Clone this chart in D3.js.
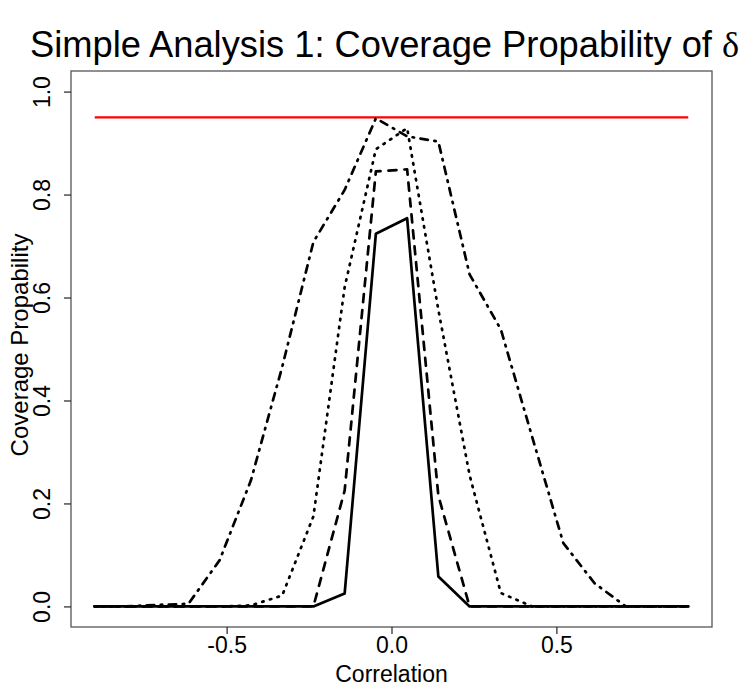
<!DOCTYPE html>
<html>
<head>
<meta charset="utf-8">
<script src="https://cdn.jsdelivr.net/npm/d3@7"></script>
<style>
  body { margin: 0; background: #fff; }
  svg { display: block; font-family: "Liberation Sans", Arial, sans-serif; }
</style>
</head>
<body>
<svg id="chart" width="741" height="700"></svg>
<script>
// correlation grid, seq(-0.9, 0.9, length = 20)
const correlation = [-0.9, -0.8053, -0.7105, -0.6158, -0.5211, -0.4263, -0.3316, -0.2368, -0.1421, -0.0474,
                     0.0474, 0.1421, 0.2368, 0.3316, 0.4263, 0.5211, 0.6158, 0.7105, 0.8053, 0.9];

// coverage, one array per curve
const coverSolid   = [0, 0, 0, 0, 0, 0, 0, 0, 0.025, 0.724, 0.754, 0.058, 0, 0, 0, 0, 0, 0, 0, 0];
const coverDashed  = [0, 0, 0, 0, 0, 0, 0, 0, 0.225, 0.845, 0.849, 0.215, 0, 0, 0, 0, 0, 0, 0, 0];
const coverDotted  = [0, 0, 0, 0, 0, 0.002, 0.021, 0.175, 0.62, 0.888, 0.929, 0.576, 0.255, 0.026, 0, 0, 0, 0, 0, 0];
const coverDotDash = [0, 0, 0.003, 0.005, 0.09, 0.245, 0.465, 0.708, 0.809, 0.948, 0.913, 0.903, 0.645, 0.538, 0.33, 0.123, 0.045, 0, 0, 0];

const nominal = 0.95;

const xTicks = [-0.5, 0, 0.5];
const yTicks = [0, 0.2, 0.4, 0.6, 0.8, 1.0];

const svg = d3.select('#chart');

// plot region (R style, 4% padding on the data range)
const plotL = 71, plotR = 712, plotT = 71, plotB = 627;

const x = d3.scaleLinear().domain([-0.972, 0.972]).range([plotL, plotR]);
const y = d3.scaleLinear().domain([-0.04, 1.04]).range([plotB, plotT]);

// nominal level
svg.append('line')
    .attr('x1', x(correlation[0]))
    .attr('x2', x(correlation[correlation.length - 1]))
    .attr('y1', y(nominal))
    .attr('y2', y(nominal))
    .attr('stroke', '#ff0000')
    .attr('stroke-width', 2.2);

const series = [
    { values: coverSolid,   dash: null },
    { values: coverDashed,  dash: '8 8' },
    { values: coverDotted,  dash: '1.5 6.5' },
    { values: coverDotDash, dash: '1.5 6.5 7.5 6.5' }
];

const line = d3.line()
    .x((d, i) => x(correlation[i]))
    .y(d => y(d));

series.forEach(s => {
    svg.append('path')
        .attr('d', line(s.values))
        .attr('fill', 'none')
        .attr('stroke', '#000')
        .attr('stroke-width', 2.7)
        .attr('stroke-linecap', 'round')
        .attr('stroke-linejoin', 'round')
        .attr('stroke-dasharray', s.dash);
});

// box
svg.append('rect')
    .attr('x', plotL)
    .attr('y', plotT)
    .attr('width', plotR - plotL)
    .attr('height', plotB - plotT)
    .attr('fill', 'none')
    .attr('stroke', '#555')
    .attr('stroke-width', 1.3);

// x axis
const xAxis = svg.append('g')
    .attr('transform', `translate(0,${plotB})`)
    .call(d3.axisBottom(x).tickValues(xTicks).tickSize(7).tickFormat(d => d.toFixed(1)));
xAxis.select('.domain').remove();
xAxis.selectAll('line').attr('stroke', '#333').attr('stroke-width', 1.3);
xAxis.selectAll('text')
    .attr('y', 26)
    .attr('dy', 0)
    .attr('fill', '#000')
    .style('font-size', '23px')
    .style('font-family', '"Liberation Sans", Arial, sans-serif');

// y axis
const yAxis = svg.append('g')
    .attr('transform', `translate(${plotL},0)`)
    .call(d3.axisLeft(y).tickValues(yTicks).tickSize(7).tickFormat(d => d.toFixed(1)));
yAxis.select('.domain').remove();
yAxis.selectAll('line').attr('stroke', '#333').attr('stroke-width', 1.3);
yAxis.selectAll('text')
    .attr('x', 0)
    .attr('dy', 0)
    .attr('transform', 'translate(-21,0) rotate(-90)')
    .attr('text-anchor', 'middle')
    .attr('fill', '#000')
    .style('font-size', '23px')
    .style('font-family', '"Liberation Sans", Arial, sans-serif');

// axis titles
svg.append('text')
    .attr('x', (plotL + plotR) / 2)
    .attr('y', 682)
    .attr('text-anchor', 'middle')
    .style('font-size', '23px')
    .text('Correlation');

svg.append('text')
    .attr('transform', `translate(28,${(plotT + plotB) / 2 - 4}) rotate(-90)`)
    .attr('text-anchor', 'middle')
    .style('font-size', '24px')
    .text('Coverage Propability');

// title (runs off the right edge as in the original)
const title = svg.append('text')
    .attr('x', 30)
    .attr('y', 57)
    .style('font-size', '36.3px');
title.append('tspan').text('Simple Analysis 1: Coverage Propability of ');
title.append('tspan')
    .style('font-family', '"Liberation Serif", "DejaVu Serif", serif')
    .text('δ');
title.append('tspan')
    .attr('dx', 3)
    .attr('dy', -14)
    .style('font-size', '22px')
    .text('1');
</script>
</body>
</html>
